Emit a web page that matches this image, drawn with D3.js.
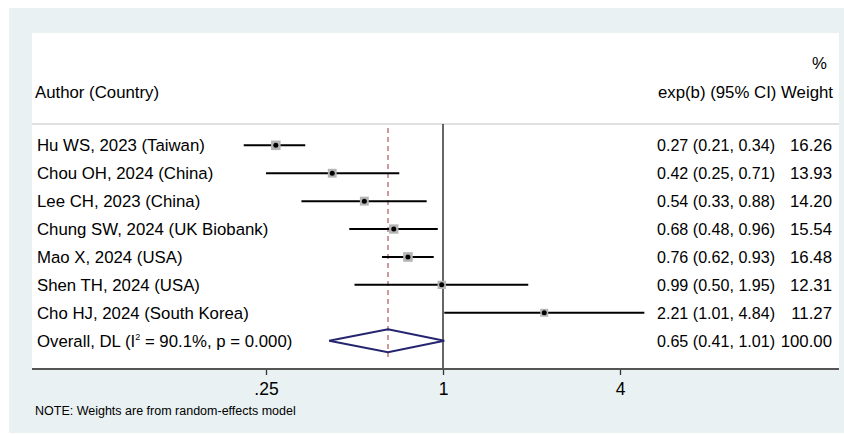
<!DOCTYPE html>
<html>
<head>
<meta charset="utf-8">
<script src="https://cdn.jsdelivr.net/npm/d3@7"></script>
<style>
  body { margin: 0; background: #fff; }
  text { font-family: "Liberation Sans", Arial, sans-serif; fill: #000; }
</style>
</head>
<body>
<div class="chart"></div>
<script>
const studies = ['Hu WS, 2023 (Taiwan)', 'Chou OH, 2024 (China)', 'Lee CH, 2023 (China)',
  'Chung SW, 2024 (UK Biobank)', 'Mao X, 2024 (USA)', 'Shen TH, 2024 (USA)', 'Cho HJ, 2024 (South Korea)'];
const est = [0.27, 0.42, 0.54, 0.68, 0.76, 0.99, 2.21];
const lower = [0.21, 0.25, 0.33, 0.48, 0.62, 0.50, 1.01];
const upper = [0.34, 0.71, 0.88, 0.96, 0.93, 1.95, 4.84];
const weights = [16.26, 13.93, 14.20, 15.54, 16.48, 12.31, 11.27];
const overallLabel = 'Overall, DL (I² = 90.1%, p = 0.000)';
const overall = {est: 0.65, lo: 0.41, hi: 1.01, w: 100.00};
const tickVals = [0.25, 1, 4];
const tickLabels = ['.25', '1', '4'];

const W = 844, H = 435;
const box = {left: 32, right: 839, top: 33, bottom: 369};

const svg = d3.select('.chart')
    .append('svg')
    .attr('width', W)
    .attr('height', H);

// outer panel + white plot region
svg.append('rect').attr('x', 9).attr('y', 8).attr('width', W - 9).attr('height', H - 10).attr('fill', '#e9f1f2');
svg.append('rect').attr('x', box.left).attr('y', box.top)
    .attr('width', box.right - box.left).attr('height', box.bottom - box.top).attr('fill', '#fff');

const xScale = d3.scaleLog().base(2)
    .domain([0.25, 4])
    .range([266, 620]);

const rowNames = studies.concat([overallLabel]);
const yScale = d3.scalePoint()
    .domain(rowNames)
    .range([145.3, 340.7]);

const fontSize = 16.8;
const ciSize = 16.1;

// headers
svg.append('text').attr('x', 35).attr('y', 98).attr('font-size', fontSize).text('Author (Country)');
svg.append('text').attr('x', 833).attr('y', 98).attr('font-size', fontSize).attr('text-anchor', 'end')
    .text('exp(b) (95% CI) Weight');
svg.append('text').attr('x', 827).attr('y', 69).attr('font-size', fontSize).attr('text-anchor', 'end').text('%');

svg.append('line')
    .attr('x1', box.left).attr('x2', box.right)
    .attr('y1', 124).attr('y2', 124)
    .attr('stroke', '#d6d6d6').attr('stroke-width', 1.5);

// null line
svg.append('line')
    .attr('x1', xScale(1)).attr('x2', xScale(1))
    .attr('y1', 124).attr('y2', box.bottom)
    .attr('stroke', '#333').attr('stroke-width', 1.5);

// overall dashed line
svg.append('line')
    .attr('x1', xScale(overall.est)).attr('x2', xScale(overall.est))
    .attr('y1', 128).attr('y2', 357)
    .attr('stroke', '#b8606a').attr('stroke-width', 1.3)
    .attr('stroke-dasharray', '5,4');

const data = studies.map((s, i) => ({name: s, est: est[i], lo: lower[i], hi: upper[i], w: weights[i]}));
const maxW = d3.max(weights);

const rows = svg.selectAll('.study')
    .data(data)
    .enter()
    .append('g')
    .attr('class', 'study');

rows.append('line')
    .attr('x1', d => xScale(d.lo)).attr('x2', d => xScale(d.hi))
    .attr('y1', d => yScale(d.name)).attr('y2', d => yScale(d.name))
    .attr('stroke', '#000').attr('stroke-width', 2);

rows.append('rect')
    .attr('x', d => xScale(d.est) - 4.8 * Math.sqrt(d.w / maxW))
    .attr('y', d => yScale(d.name) - 4.8 * Math.sqrt(d.w / maxW))
    .attr('width', d => 9.6 * Math.sqrt(d.w / maxW))
    .attr('height', d => 9.6 * Math.sqrt(d.w / maxW))
    .attr('fill', '#b5b5b5');

rows.append('circle')
    .attr('cx', d => xScale(d.est))
    .attr('cy', d => yScale(d.name))
    .attr('r', 2.5)
    .attr('fill', '#000');

rows.append('text')
    .attr('x', 37).attr('y', d => yScale(d.name) + 6)
    .attr('font-size', fontSize)
    .text(d => d.name);

rows.append('text')
    .attr('x', 657).attr('y', d => yScale(d.name) + 6)
    .attr('font-size', ciSize)
    .text(d => d.est.toFixed(2) + ' (' + d.lo.toFixed(2) + ', ' + d.hi.toFixed(2) + ')');

rows.append('text')
    .attr('x', 832).attr('y', d => yScale(d.name) + 6)
    .attr('font-size', fontSize).attr('text-anchor', 'end')
    .text(d => d.w.toFixed(2));

// overall diamond
const oy = yScale(overallLabel);
svg.append('polygon')
    .attr('points', [
        [xScale(overall.lo), oy], [xScale(overall.est), oy - 11.5],
        [xScale(overall.hi), oy], [xScale(overall.est), oy + 11.5]
    ].map(p => p.join(',')).join(' '))
    .attr('fill', 'none')
    .attr('stroke', '#25256f').attr('stroke-width', 2);

const ot = svg.append('text').attr('x', 37).attr('y', oy + 6).attr('font-size', fontSize);
ot.append('tspan').text('Overall, DL (I');
ot.append('tspan').attr('font-size', 9).attr('dy', -7).text('2');
ot.append('tspan').attr('dy', 7).text(' = 90.1%, p = 0.000)');

svg.append('text')
    .attr('x', 657).attr('y', oy + 6).attr('font-size', ciSize)
    .text(overall.est.toFixed(2) + ' (' + overall.lo.toFixed(2) + ', ' + overall.hi.toFixed(2) + ')');
svg.append('text')
    .attr('x', 832).attr('y', oy + 6).attr('font-size', fontSize).attr('text-anchor', 'end')
    .text(overall.w.toFixed(2));

// x axis
const xAxis = d3.axisBottom()
    .scale(xScale)
    .tickValues(tickVals)
    .tickFormat((d, i) => tickLabels[i])
    .tickSize(6)
    .tickPadding(8);

const gx = svg.append('g')
    .attr('class', 'x-axis')
    .attr('transform', 'translate(0,' + box.bottom + ')')
    .call(xAxis);
gx.select('.domain').remove();
gx.selectAll('.tick line').attr('stroke', '#333').attr('stroke-width', 1.3);
gx.selectAll('.tick text').attr('font-size', 17.5).attr('font-family', '"Liberation Sans", Arial, sans-serif');

svg.append('line')
    .attr('x1', box.left).attr('x2', box.right)
    .attr('y1', box.bottom).attr('y2', box.bottom)
    .attr('stroke', '#555').attr('stroke-width', 2);

svg.append('text')
    .attr('x', 35).attr('y', 415)
    .attr('font-size', 12.5)
    .text('NOTE: Weights are from random-effects model');
</script>
</body>
</html>
